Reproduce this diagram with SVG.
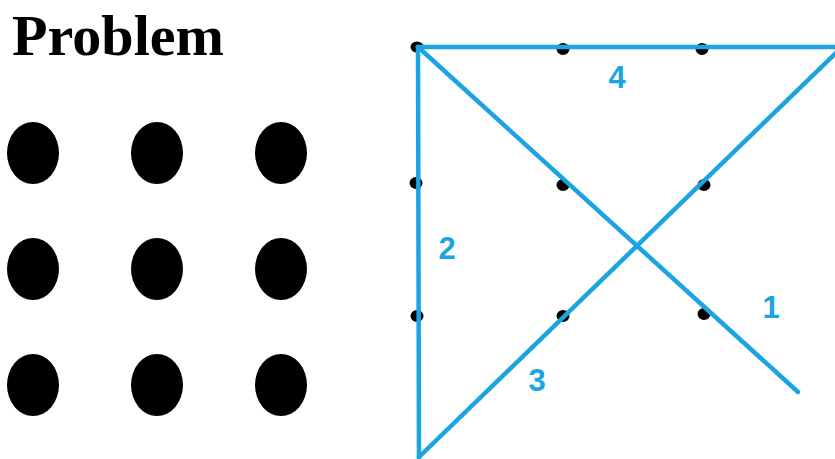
<svg xmlns="http://www.w3.org/2000/svg" width="835" height="459" viewBox="0 0 835 459">
<style>
.big{fill:#000}
.dot{fill:#000}
.ln{stroke:#1ba4e3;stroke-width:4.5;stroke-linecap:round;fill:none}
.lbl{font-family:"Liberation Sans",Arial,sans-serif;font-weight:bold;font-size:31px;fill:#1ba4e3;text-anchor:middle}
</style>
<rect width="835" height="459" fill="#fff"/>
<text x="12" y="55" font-family="Liberation Serif,serif" font-weight="bold" font-size="56" textLength="212" lengthAdjust="spacingAndGlyphs">Problem</text>
<g id="problem-dots">
<ellipse class="big" cx="33" cy="153" rx="26" ry="31"/>
<ellipse class="big" cx="157" cy="153" rx="26" ry="31"/>
<ellipse class="big" cx="281" cy="153" rx="26" ry="31"/>
<ellipse class="big" cx="33" cy="269" rx="26" ry="31"/>
<ellipse class="big" cx="157" cy="269" rx="26" ry="31"/>
<ellipse class="big" cx="281" cy="269" rx="26" ry="31"/>
<ellipse class="big" cx="33" cy="385" rx="26" ry="31"/>
<ellipse class="big" cx="157" cy="385" rx="26" ry="31"/>
<ellipse class="big" cx="281" cy="385" rx="26" ry="31"/>
</g>
<g id="solution-dots">
<ellipse class="dot" cx="417" cy="47" rx="6.5" ry="5.5"/>
<ellipse class="dot" cx="563" cy="49" rx="6.5" ry="6"/>
<ellipse class="dot" cx="702" cy="49" rx="6.5" ry="6"/>
<ellipse class="dot" cx="416" cy="183" rx="6.5" ry="6"/>
<ellipse class="dot" cx="563" cy="185" rx="6.5" ry="6"/>
<ellipse class="dot" cx="704" cy="185" rx="6.5" ry="6"/>
<ellipse class="dot" cx="417" cy="316" rx="6.5" ry="6"/>
<ellipse class="dot" cx="563" cy="316" rx="6.5" ry="6"/>
<ellipse class="dot" cx="704" cy="314" rx="6.5" ry="6"/>
</g>
<g id="connectors">
<line class="ln" x1="418" y1="47" x2="840" y2="47"/>
<line class="ln" x1="418" y1="47" x2="798" y2="392"/>
<line class="ln" x1="418" y1="47" x2="419" y2="465"/>
<line class="ln" x1="419" y1="457" x2="838" y2="51"/>
</g>
<g id="labels">
<text class="lbl" x="617" y="88">4</text>
<text class="lbl" x="447" y="259">2</text>
<text class="lbl" x="537" y="391">3</text>
<text class="lbl" x="771" y="318">1</text>
</g>
</svg>
